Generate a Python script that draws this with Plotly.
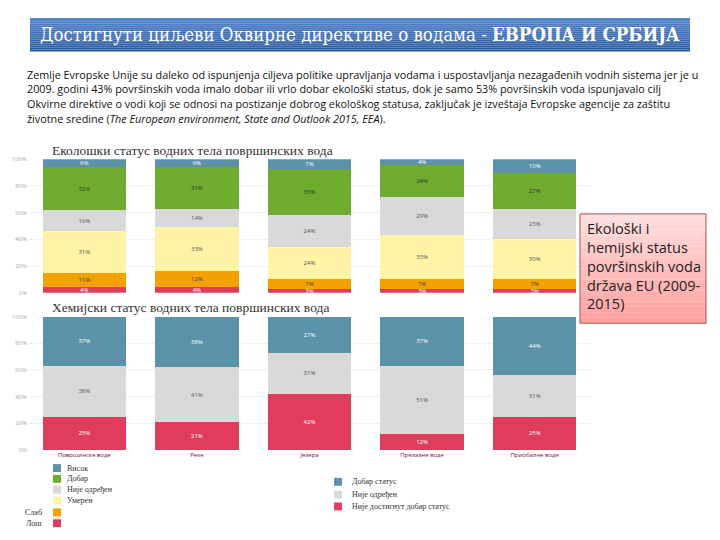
import plotly.graph_objects as go

# ---------------- data ----------------
categories = ["Површинске воде", "Реке", "Језера", "Прелазне воде", "Приобалне воде"]

eco_names = ["Лош", "Слаб", "Умерен", "Није одређен", "Добар", "Висок"]  # bottom -> top
eco_lose = [4, 4, 3, 3, 3]
eco_slab = [11, 12, 7, 7, 7]
eco_umeren = [31, 33, 24, 33, 30]
eco_nije = [16, 14, 24, 29, 23]
eco_dobar = [32, 31, 35, 24, 27]
eco_visok = [6, 6, 7, 4, 10]

chem_names = ["Није достигнут добар статус", "Није одређен", "Добар статус"]  # bottom -> top
chem_nije_dost = [25, 21, 42, 12, 25]
chem_nije_odr = [38, 41, 31, 51, 31]
chem_dobar = [37, 38, 27, 37, 44]

y_ticks = [0, 20, 40, 60, 80, 100]

eco_colors = ["#e03c5c", "#f2a100", "#fff4a6", "#d9d9d9", "#6eab2e", "#5b92aa"]
chem_colors = ["#e03c5c", "#d9d9d9", "#5b92aa"]
eco_text_colors = ["white", "#444", "#555", "#555", "#333", "white"]
chem_text_colors = ["white", "#555", "white"]

# page body has an 8px margin, so the figure is offset by 8px
OFF = 8
W, H = 712, 532
def px(x): return (x - OFF) / W
def py(y): return 1 - (y - OFF) / H

fig = go.Figure()

eco_series = [eco_lose, eco_slab, eco_umeren, eco_nije, eco_dobar, eco_visok]
for name, vals, col, tc in zip(eco_names, eco_series, eco_colors, eco_text_colors):
    fig.add_trace(go.Bar(x=categories, y=vals, name=name, marker_color=col,
                         marker_line_width=0, width=0.74,
                         text=[f"{v}%" for v in vals], textposition="inside",
                         insidetextanchor="middle",
                         textfont=dict(size=6, color=tc, family="Open Sans"),
                         xaxis="x", yaxis="y", showlegend=False, hoverinfo="skip"))

chem_series = [chem_nije_dost, chem_nije_odr, chem_dobar]
for name, vals, col, tc in zip(chem_names, chem_series, chem_colors, chem_text_colors):
    fig.add_trace(go.Bar(x=categories, y=vals, name=name, marker_color=col,
                         marker_line_width=0, width=0.74,
                         text=[f"{v}%" for v in vals], textposition="inside",
                         insidetextanchor="middle",
                         textfont=dict(size=6, color=tc, family="Open Sans"),
                         xaxis="x2", yaxis="y2", showlegend=False, hoverinfo="skip"))

xdom = [px(28), px(591)]
axis_y = dict(range=[0, 100], tickvals=y_ticks, ticktext=[f"{t}%" for t in y_ticks],
              tickfont=dict(size=6, color="#aaaaaa", family="Open Sans"),
              showgrid=True, gridcolor="#f0f0f0", zeroline=False, showline=False,
              fixedrange=True, ticks="")

shapes = []
annotations = []

# banner with gradient bands
b_top, b_bot = 14, 48
n = 17
c1 = (84, 134, 204)
c2 = (40, 88, 160)
for i in range(n):
    t = i / (n - 1)
    c = tuple(int(c1[k] + (c2[k] - c1[k]) * t) for k in range(3))
    y0 = b_top + (b_bot - b_top) * i / n
    y1 = b_top + (b_bot - b_top) * (i + 1) / n
    shapes.append(dict(type="rect", xref="paper", yref="paper", x0=px(30), x1=px(690),
                       y0=py(y0), y1=py(y1), fillcolor=f"rgb{c}", line_width=0, layer="below"))
annotations.append(dict(xref="paper", yref="paper", x=px(360), y=py(31), xanchor="center", yanchor="middle",
                        showarrow=False,
                        text="Достигнути циљеви Оквирне директиве о водама - <b>ЕВРОПА И СРБИЈА</b>",
                        font=dict(family="DejaVu Serif Condensed, DejaVu Serif", size=18.5, color="white")))

# paragraph
para_lines = [
    "Zemlje Evropske Unije su daleko od ispunjenja ciljeva politike upravljanja vodama i uspostavljanja nezagađenih vodnih sistema jer je u",
    "2009. godini 43% površinskih voda imalo dobar ili vrlo dobar ekološki status, dok je samo 53% površinskih voda ispunjavalo cilj",
    "Okvirne direktive o vodi koji se odnosi na postizanje dobrog ekološkog statusa, zaključak je izveštaja Evropske agencije za zaštitu",
    "životne sredine (<i>The European environment, State and Outlook 2015, EEA</i>).",
]
for i, line in enumerate(para_lines):
    annotations.append(dict(xref="paper", yref="paper", x=px(25), y=py(71 + 15 * i), xanchor="left",
                            yanchor="middle", showarrow=False, text=line,
                            font=dict(family="Liberation Sans Narrow, Open Sans", size=10.8, color="#111")))

# chart titles
annotations.append(dict(xref="paper", yref="paper", x=px(192), y=py(149), xanchor="center", yanchor="middle",
                        showarrow=False, text="Еколошки статус водних тела површинских вода",
                        font=dict(family="Liberation Serif", size=13.5, color="#333")))
annotations.append(dict(xref="paper", yref="paper", x=px(190), y=py(308), xanchor="center", yanchor="middle",
                        showarrow=False, text="Хемијски статус водних тела површинских вода",
                        font=dict(family="Liberation Serif", size=13.5, color="#333")))

# legends
eco_leg_y = [527, 516, 504, 493, 482, 471]  # matching eco_names order (bottom->top)
for name, col, yy in zip(eco_names, eco_colors, eco_leg_y):
    shapes.append(dict(type="rect", xref="paper", yref="paper", x0=px(53), x1=px(61),
                       y0=py(yy + 4), y1=py(yy - 4), fillcolor=col, line_width=0))
    if name in ("Слаб", "Лош"):
        annotations.append(dict(xref="paper", yref="paper", x=px(44), y=py(yy), xanchor="right",
                                yanchor="middle", showarrow=False, text=name,
                                font=dict(family="Liberation Serif", size=8, color="#333")))
    else:
        annotations.append(dict(xref="paper", yref="paper", x=px(65), y=py(yy), xanchor="left",
                                yanchor="middle", showarrow=False, text=name,
                                font=dict(family="Liberation Serif", size=8, color="#333")))
chem_leg_y = [510, 498, 485]
for name, col, yy in zip(chem_names, chem_colors, chem_leg_y):
    shapes.append(dict(type="rect", xref="paper", yref="paper", x0=px(334), x1=px(342),
                       y0=py(yy + 4), y1=py(yy - 4), fillcolor=col, line_width=0))
    annotations.append(dict(xref="paper", yref="paper", x=px(350), y=py(yy), xanchor="left",
                            yanchor="middle", showarrow=False, text=name,
                            font=dict(family="Liberation Serif", size=8, color="#333")))

# pink box with gradient
bx0, bx1, by0, by1 = 580, 706, 213, 324
n = 20
p1 = (255, 222, 222)
p2 = (255, 160, 160)
for i in range(n):
    t = i / (n - 1)
    c = tuple(int(p1[k] + (p2[k] - p1[k]) * t) for k in range(3))
    y0 = by0 + (by1 - by0) * i / n
    y1 = by0 + (by1 - by0) * (i + 1) / n
    shapes.append(dict(type="rect", xref="paper", yref="paper", x0=px(bx0), x1=px(bx1),
                       y0=py(y0), y1=py(y1), fillcolor=f"rgb{c}", line_width=0, layer="above"))
shapes.append(dict(type="rect", xref="paper", yref="paper", x0=px(bx0), x1=px(bx1),
                   y0=py(by0), y1=py(by1), line=dict(color="#b0504a", width=1), layer="above"))
annotations.append(dict(xref="paper", yref="paper", x=px(bx0 + 5), y=py(by0 + 3), xanchor="left",
                        yanchor="top", showarrow=False, align="left",
                        text="Ekološki i<br>hemijski status<br>površinskih voda<br>država EU (2009-<br>2015)",
                        font=dict(family="Open Sans", size=14.5, color="#222")))

fig.update_layout(
    width=W, height=H, margin=dict(l=0, r=0, t=0, b=0),
    paper_bgcolor="white", plot_bgcolor="white",
    barmode="stack",
    uniformtext=dict(minsize=6, mode="show"),
    xaxis=dict(domain=xdom, anchor="y", showticklabels=False, showgrid=False, ticks="",
               showline=False, fixedrange=True),
    yaxis=dict(domain=[py(293), py(157.5)], anchor="x", **axis_y),
    xaxis2=dict(domain=xdom, anchor="y2", showgrid=False, ticks="", showline=False,
                tickfont=dict(size=6, color="#333", family="Open Sans"), fixedrange=True),
    yaxis2=dict(domain=[py(452.7), py(317.3)], anchor="x2", **axis_y),
    shapes=shapes, annotations=annotations,
)

fig.write_html("out.html")
